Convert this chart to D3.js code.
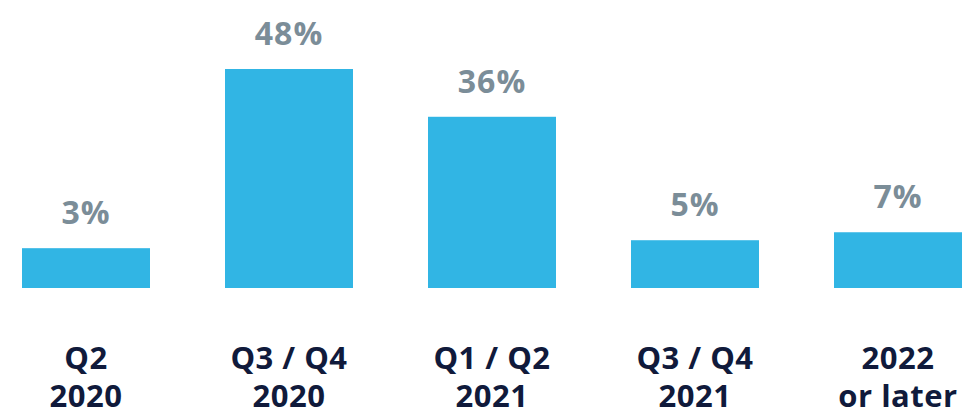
<!DOCTYPE html>
<html>
<head>
<meta charset="utf-8">
<script src="https://cdn.jsdelivr.net/npm/d3@7"></script>
<style>
  html, body { margin: 0; padding: 0; background: #ffffff; }
  svg { display: block; }
</style>
</head>
<body>
<svg id="chart" width="965" height="417"></svg>
<script>
// Expected timing of recovery, share of respondents
const periodsTop = ["Q2", "Q3 / Q4", "Q1 / Q2", "Q3 / Q4", "2022"];
const periodsBottom = ["2020", "2020", "2021", "2021", "or later"];
const shares = [3, 48, 36, 5, 7];
const valueLabels = ["3%", "48%", "36%", "5%", "7%"];

const svg = d3.select("#chart");

const x = d3.scaleBand()
  .domain(d3.range(shares.length))
  .range([22, 962])
  .paddingInner(0.3695)
  .paddingOuter(0);

const y = d3.scaleLinear()
  .domain([-7, 48])
  .range([288, 69]);

const font = "'Open Sans', 'DejaVu Sans', sans-serif";

svg.append("g")
  .selectAll("rect")
  .data(shares)
  .join("rect")
  .attr("x", (d, i) => x(i))
  .attr("y", d => y(d))
  .attr("width", x.bandwidth())
  .attr("height", d => y(-7) - y(d))
  .attr("fill", "#31b5e4");

svg.append("g")
  .selectAll("text")
  .data(shares)
  .join("text")
  .attr("x", (d, i) => x(i) + x.bandwidth() / 2)
  .attr("y", d => y(d) - 24)
  .attr("text-anchor", "middle")
  .attr("font-family", font)
  .attr("font-weight", 700)
  .attr("font-size", 32)
  .attr("letter-spacing", 1)
  .attr("fill", "#7b8d98")
  .text((d, i) => valueLabels[i]);

const cats = svg.append("g")
  .selectAll("text")
  .data(periodsTop)
  .join("text")
  .attr("text-anchor", "middle")
  .attr("font-family", font)
  .attr("font-weight", 700)
  .attr("font-size", 31)
  .attr("letter-spacing", 0.5)
  .attr("fill", "#101a3b");

cats.append("tspan")
  .attr("x", (d, i) => x(i) + x.bandwidth() / 2)
  .attr("y", 369)
  .text(d => d);

cats.append("tspan")
  .attr("x", (d, i) => x(i) + x.bandwidth() / 2)
  .attr("y", 407)
  .text((d, i) => periodsBottom[i]);
</script>
</body>
</html>
